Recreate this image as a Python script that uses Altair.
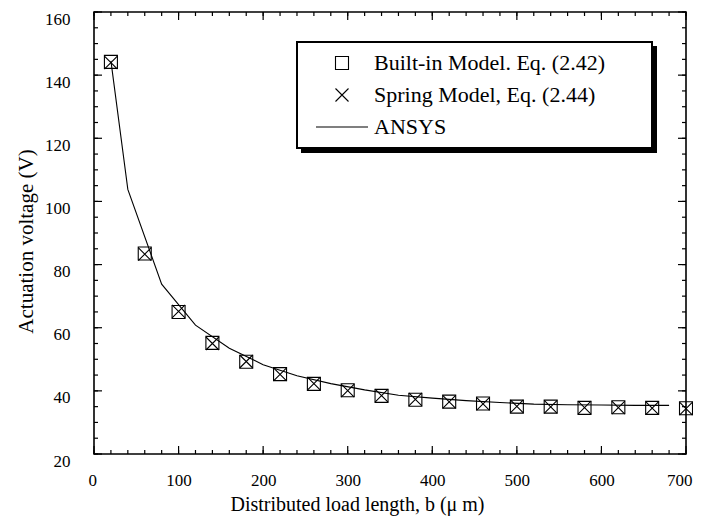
import altair as alt
import pandas as pd

# ---- data ----
b_model = [20, 60, 100, 140, 180, 220, 260, 300, 340, 380, 420, 460, 500, 540, 580, 620, 660, 700]
builtin_v = [144.2, 83.5, 65.0, 55.2, 49.2, 45.3, 42.2, 40.2, 38.4, 37.2, 36.6, 36.0, 35.0, 35.0, 34.6, 34.8, 34.6, 34.5]
spring_v = [144.0, 83.3, 65.2, 55.0, 49.3, 45.2, 42.3, 40.1, 38.5, 37.3, 36.5, 35.9, 35.1, 34.9, 34.7, 34.7, 34.5, 34.4]

b_ansys = [20, 40, 80, 120, 160, 200, 240, 280, 320, 360, 400, 440, 480, 520, 560, 600, 640, 680]
ansys_v = [144.5, 103.8, 73.8, 60.8, 53.5, 48.3, 44.8, 42.3, 40.3, 38.6, 37.7, 36.9, 36.3, 35.8, 35.6, 35.5, 35.4, 35.4]

series_names = ["Built-in Model. Eq. (2.42)", "Spring Model, Eq. (2.44)", "ANSYS"]

x_labels = [0, 100, 200, 300, 400, 500, 600, 700]
y_labels = [20, 40, 60, 80, 100, 120, 140, 160]
x_minor = [0, 20, 40, 60, 80, 100, 120, 140, 160, 180, 200, 220, 240, 260, 280, 300, 320, 340,
           360, 380, 400, 420, 440, 460, 480, 500, 520, 540, 560, 580, 600, 620, 640, 660, 680, 700]
y_minor = [20, 25, 30, 35, 40, 45, 50, 55, 60, 65, 70, 75, 80, 85, 90, 95, 100, 105, 110, 115,
           120, 125, 130, 135, 140, 145, 150, 155, 160]

W, H = 592, 442
FONT = "Liberation Serif"

xs = alt.Scale(domain=[0, 700], nice=False, zero=False)
ys = alt.Scale(domain=[20, 160], nice=False, zero=False)

X_AXIS = alt.Axis(values=x_labels, title="Distributed load length, b (\u03bc m)",
                  labelPadding=18, labelFlush=True, labelFlushOffset=6, titleX=263, titleY=50,
                  titleBaseline="middle", titleAlign="center")
Y_AXIS = alt.Axis(values=y_labels, title="Actuation voltage (V)",
                  labelPadding=24, labelOffset=7, labelFlush=False, titleX=-68, titleY=229,
                  titleBaseline="middle", titleAlign="center", titleAngle=270)

pts = pd.DataFrame({
    "b": b_model + b_model,
    "v": builtin_v + spring_v,
    "series": [series_names[0]] * len(b_model) + [series_names[1]] * len(b_model),
})
line_df = pd.DataFrame({"b": b_ansys, "v": ansys_v})

SQUARE = "M-1,-1H1V1H-1Z"
XMARK = "M-1,-1L1,1M-1,1L1,-1"
LINE = "M-4,0L4,0"

line = alt.Chart(line_df).mark_line(color="black", strokeWidth=1.1).encode(
    x=alt.X("b:Q", scale=xs, axis=X_AXIS),
    y=alt.Y("v:Q", scale=ys, axis=Y_AXIS),
)

points = alt.Chart(pts).mark_point(filled=False, color="black", size=169, strokeWidth=1.1, opacity=1).encode(
    x=alt.X("b:Q", scale=xs, axis=X_AXIS),
    y=alt.Y("v:Q", scale=ys, axis=Y_AXIS),
    shape=alt.Shape("series:N", scale=alt.Scale(domain=series_names, range=[SQUARE, XMARK, LINE]),
                    legend=alt.Legend(title=None, orient="none", legendX=237, legendY=40,
                                      padding=0, symbolOffset=0, labelOffset=21,
                                      rowPadding=10, symbolSize=169, symbolStrokeWidth=1.1,
                                      symbolStrokeColor="black", labelFont=FONT, labelFontSize=22,
                                      labelColor="black", labelLimit=400)),
)

one = pd.DataFrame({"k": [0]})
shadow = alt.Chart(one).mark_rect(color="black").encode(
    x=alt.value(207), x2=alt.value(563), y=alt.value(34), y2=alt.value(141))
frame = alt.Chart(one).mark_rect(fill="white", stroke="black", strokeWidth=2).encode(
    x=alt.value(203), x2=alt.value(558), y=alt.value(30), y2=alt.value(136))


def xticks(vals, ln, side):
    df = pd.DataFrame({"b": vals})
    if side == "bottom":
        yy, yy2 = H, H - ln
    else:
        yy, yy2 = 0, ln
    return alt.Chart(df).mark_rule(color="black", strokeWidth=1.2).encode(
        x=alt.X("b:Q", scale=xs, axis=X_AXIS), y=alt.value(yy), y2=alt.value(yy2))


def yticks(vals, ln, side):
    df = pd.DataFrame({"v": vals})
    if side == "left":
        xx, xx2 = 0, ln
    else:
        xx, xx2 = W, W - ln
    return alt.Chart(df).mark_rule(color="black", strokeWidth=1.2).encode(
        y=alt.Y("v:Q", scale=ys, axis=Y_AXIS), x=alt.value(xx), x2=alt.value(xx2))


ticks = [
    xticks(x_minor, 4, "bottom"), xticks(x_labels, 8, "bottom"),
    xticks(x_minor, 4, "top"), xticks(x_labels, 8, "top"),
    yticks(y_minor, 4, "left"), yticks(y_labels, 8, "left"),
    yticks(y_minor, 4, "right"), yticks(y_labels, 8, "right"),
]

chart = alt.layer(line, shadow, frame, points, *ticks).properties(
    width=W, height=H,
    autosize=alt.AutoSizeParams(type="none"),
    padding={"left": 86, "top": 4, "right": 7, "bottom": 63},
    background="white",
).configure_view(stroke="black", strokeWidth=1.6).configure_axis(
    grid=False, ticks=False, domain=False,
    labelFont=FONT, labelFontSize=17, labelColor="black",
    titleFont=FONT, titleFontSize=20, titleColor="black", titleFontWeight="normal",
).configure_axisY(titleFontSize=21)

chart.save("out.html", embed_options={"renderer": "svg", "actions": False})
